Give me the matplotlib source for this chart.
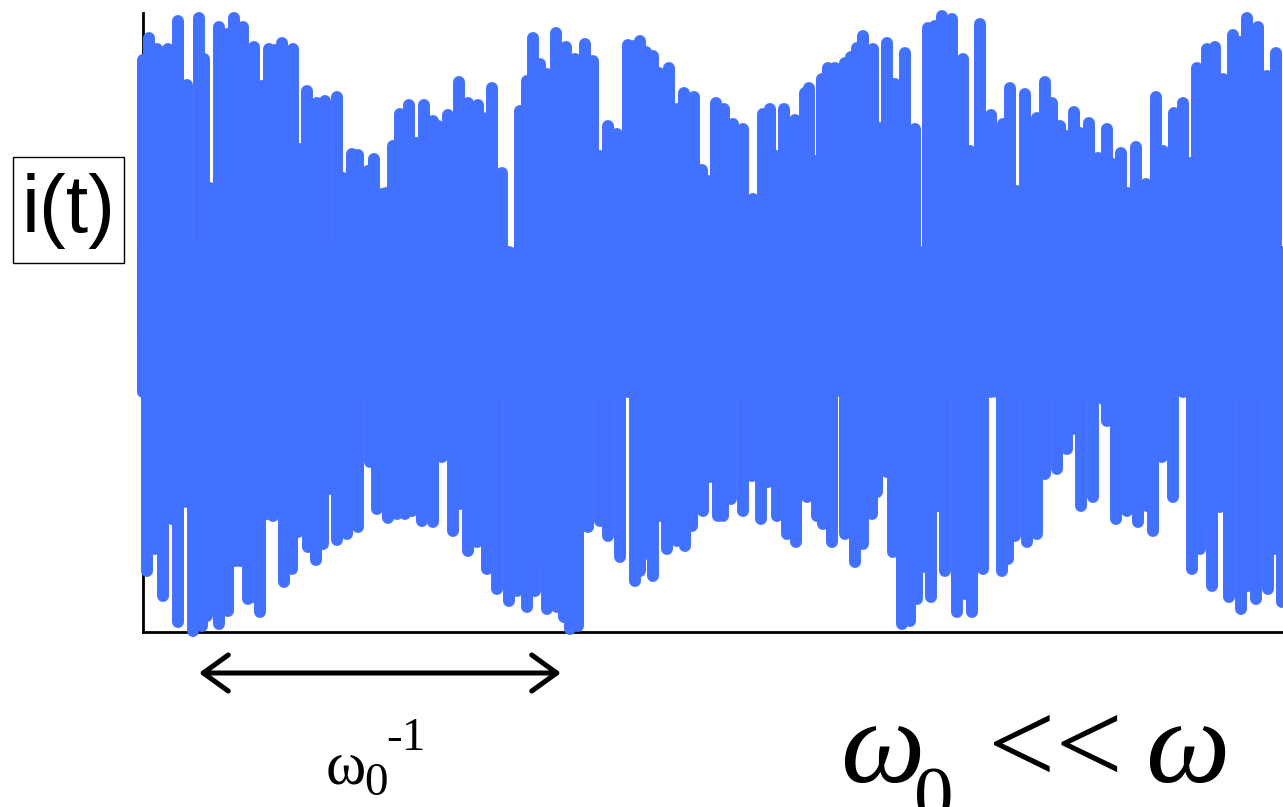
import numpy as np
import matplotlib
matplotlib.use("Agg")
import matplotlib.pyplot as plt
from matplotlib.patches import FancyArrowPatch, Rectangle, ArrowStyle

# ---- data (arbitrary units) ----
# upper excursions of i(t)
top_t = [0, 6, 14, 25, 35, 44, 56, 61, 67, 76, 84, 91, 100, 111, 119, 126, 132, 139, 150, 157, 164, 174,
         182, 194, 200, 209, 215, 222, 225, 231, 239, 243, 250, 257, 266, 273, 281, 290, 295, 305, 316, 325,
         335, 340, 349, 359, 365, 370, 377, 384, 390, 397, 404, 413, 423, 432, 442, 450, 457, 465, 474, 479,
         485, 491, 497, 503, 510, 516, 526, 534, 541, 551, 559, 565, 573, 581, 590, 600, 610, 620, 627, 634, 641, 652,
         662, 666, 672, 679, 685, 692, 702, 708, 714, 720, 730, 737, 744, 752, 762, 772, 785, 792, 799, 809, 820,
         827, 837, 848, 854, 860, 867, 874, 882, 889, 894, 902, 909, 917, 924, 931, 937, 946, 955, 964, 970,
         978, 985, 993, 1003, 1013, 1020, 1031, 1040, 1047, 1054, 1064, 1072, 1080, 1090, 1097, 1104, 1115, 1124, 1133, 1142]
top_v = [572, 594, 583, 583, 611, 547, 614, 573, 444, 605, 598, 614, 605, 585, 546, 583, 582, 589, 583, 483, 541, 529,
         531, 535, 454, 478, 477, 443, 461, 473, 438, 439, 486, 518, 527, 489, 527, 511, 506, 517, 550, 529,
         527, 514, 544, 459, 373, 374, 521, 551, 594, 568, 558, 599, 585, 573, 588, 571, 476, 506, 498, 493,
         587, 586, 591, 580, 576, 559, 564, 523, 539, 535, 462, 451, 529, 523, 508, 503, 433, 518, 523, 476, 523, 512,
         539, 544, 471, 553, 564, 564, 569, 575, 584, 596, 583, 504, 589, 548, 579, 503, 604, 606, 616, 613, 573,
         481, 608, 517, 499, 508, 544, 441, 538, 508, 514, 550, 529, 506, 496, 520, 499, 509, 474, 503, 468,
         479, 439, 485, 448, 535, 481, 519, 529, 469, 564, 583, 585, 553, 597, 590, 614, 605, 556, 579, 529]

# lower excursions of i(t)
bot_t = [0, 4, 12, 20, 29, 35, 43, 50, 59, 64, 69, 76, 85, 92, 97, 105, 110, 117, 124, 130, 141,
         149, 155, 159, 165, 173, 180, 186, 194, 204, 215, 227, 234, 245, 254, 262, 269, 279, 290, 299, 302,
         310, 317, 325, 334, 344, 354, 366, 374, 384, 392, 395, 404, 414, 421, 427, 435, 440, 445, 457, 465, 477,
         492, 497, 502, 510, 517, 524, 534, 542, 549, 560, 567, 575, 580, 588, 600, 609, 618, 625, 634, 644,
         653, 664, 674, 680, 689, 702, 712, 720, 729, 734, 744, 750, 759, 767, 774, 780, 788, 795, 802, 814,
         822, 829, 840, 859, 865, 872, 884, 894, 902, 914, 924, 930, 938, 950, 960, 964, 973, 984, 995, 1004,
         1010, 1019, 1030, 1049, 1057, 1062, 1069, 1077, 1086, 1098, 1105, 1113, 1125, 1132, 1139]
bot_v = [300, 61, 83, 36, 113, 10, 130, 1, 6, 16, 26, 8, 21, 71, 71, 33, 35, 20, 118, 116, 50,
         63, 100, 155, 85, 72, 88, 143, 92, 98, 105, 170, 123, 114, 118, 118, 121, 111, 110, 175, 223,
         101, 128, 81, 90, 63, 43, 31, 41, 25, 41, 76, 23, 25, 15, 3, 6, 106, 105, 111, 96, 75,
         51, 61, 78, 56, 116, 83, 91, 86, 106, 121, 155, 116, 116, 133, 121, 156, 113, 150, 116, 98,
         90, 135, 116, 108, 90, 98, 70, 88, 118, 140, 160, 80, 8, 11, 33, 65, 35, 126, 61, 20,
         38, 20, 63, 61, 73, 96, 90, 98, 158, 163, 183, 203, 126, 135, 233, 211, 113, 121, 110, 126,
         101, 175, 135, 63, 83, 111, 46, 125, 35, 23, 46, 33, 43, 83, 30]

assert len(top_t) == len(top_v) and len(bot_t) == len(bot_v)

W, H = 1283, 807
fig = plt.figure(figsize=(W / 100, H / 100), dpi=100)
ax = fig.add_axes([143 / W, (H - 632) / H, (W - 143) / W, 619 / H])
ax.set_xlim(0, 1140)
ax.set_ylim(0, 619)

blue = "#4270ff"
lw = 8.6
# each oscillation drawn as a near-vertical stroke through the dense middle band
lc_top = ax.vlines(top_t, 240, top_v, color=blue, lw=lw, clip_on=False, zorder=3)
lc_bot = ax.vlines(bot_t, bot_v, 380, color=blue, lw=lw, clip_on=False, zorder=3)
for lc in (lc_top, lc_bot):
    lc.set_capstyle("round")
    lc.set_joinstyle("round")

for s in ["top", "right"]:
    ax.spines[s].set_visible(False)
for s in ["left", "bottom"]:
    ax.spines[s].set_linewidth(2.0)
    ax.spines[s].set_color("black")
ax.set_xticks([])
ax.set_yticks([])
ax.patch.set_alpha(0)


def fx(px):
    return px / W


def fy(py):
    return 1 - py / H


# i(t) label in a box
fig.patches.append(Rectangle((fx(13), fy(263)), (124 - 13) / W, (263 - 157) / H,
                             transform=fig.transFigure, fill=False, ec="black", lw=1.0))
fig.text(fx(68.5), fy(211), "i(t)", ha="center", va="center", fontsize=58,
         family="Liberation Sans")

# double arrow
arr = FancyArrowPatch(posA=(fx(199), fy(673)), posB=(fx(561), fy(673)),
                      transform=fig.transFigure,
                      arrowstyle=ArrowStyle("<->", head_length=18, head_width=13),
                      mutation_scale=1, lw=3.6, color="black",
                      shrinkA=0, shrinkB=0, capstyle="round", joinstyle="round")
fig.patches.append(arr)

# omega_0^-1 label
fig.text(fx(326), fy(783), "ω", ha="left", va="baseline", fontsize=44, family="Liberation Serif")
fig.text(fx(364), fy(795), "0", ha="left", va="baseline", fontsize=34, family="Liberation Serif")
fig.text(fx(386), fy(750), "-1", ha="left", va="baseline", fontsize=34, family="Liberation Serif")

# omega_0 << omega
fig.text(fx(840), fy(782), "ω", ha="left", va="baseline", fontsize=86,
         family="Liberation Serif", style="italic")
fig.text(fx(914), fy(820), "0", ha="left", va="baseline", fontsize=57, family="Liberation Serif")
fig.text(fx(988), fy(783), "<<", ha="left", va="baseline", fontsize=86, family="Liberation Serif")
fig.text(fx(1145), fy(782), "ω", ha="left", va="baseline", fontsize=86,
         family="Liberation Serif", style="italic")

fig.savefig("out.png", dpi=100)
